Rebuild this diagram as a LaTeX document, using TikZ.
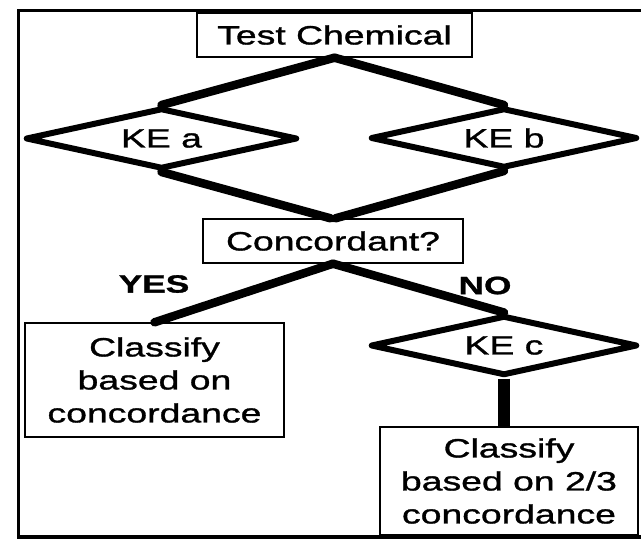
\documentclass[tikz,border=0pt]{standalone}
\usepackage{fontspec}
\setmainfont{Liberation Sans}[FakeStretch=1.41, FakeBold=1.2]
\usetikzlibrary{shapes.geometric}
\begin{document}
\begin{tikzpicture}[x=1pt,y=-1pt,
  every node/.style={font=\fontsize{26.5}{33}\selectfont, text=black},
  box/.style={draw, line width=1.4pt, inner sep=0pt, align=center},
  ke/.style={draw, diamond, aspect=4.2, line width=6pt, line join=round, inner sep=0pt},
  conn/.style={line width=8.5pt, line cap=round},
  lbl/.style={font=\fontsize{25}{30}\selectfont\bfseries}]
\useasboundingbox (0,0) rectangle (641,547);
\fill[white] (0,0) rectangle (641,547);
\draw[line width=3.5pt] (645,10.5) -- (18.5,10.5) -- (18.5,537) -- (645,537);

\node[box, minimum width=275pt, minimum height=44pt] (tc) at (334.5,35) {Test Chemical};
\node[ke, minimum width=272pt, minimum height=61pt] (kea) at (161.5,138.5) {KE a};
\node[ke, minimum width=267pt, minimum height=60pt] (keb) at (504,138) {KE b};
\node[box, minimum width=260pt, minimum height=44pt] (conc) at (333,241) {Concordant?};
\node[box, minimum width=259pt, minimum height=114pt] (cl) at (154.5,380) {Classify\\based on\\concordance};
\node[ke, minimum width=267pt, minimum height=60pt] (kec) at (504,345.5) {KE c};
\node[box, minimum width=258pt, minimum height=108pt] (cr) at (509,481) {Classify\\based on 2/3\\concordance};
\node[lbl] (yes) at (154,284) {YES};
\node[lbl] (no) at (485,285.5) {NO};

\draw[conn] (tc.south) -- (kea.north);
\draw[conn] (tc.south) -- (keb.north);
\draw[conn] (kea.south) -- ([xshift=-2.5pt]conc.north);
\draw[conn] (keb.south) -- ([xshift=2.5pt]conc.north);
\draw[conn] (conc.south) -- (cl.north);
\draw[conn] (conc.south) -- (kec.north);
\draw[line width=12pt] (kec.south) -- (kec.south |- cr.north);
\end{tikzpicture}
\end{document}
